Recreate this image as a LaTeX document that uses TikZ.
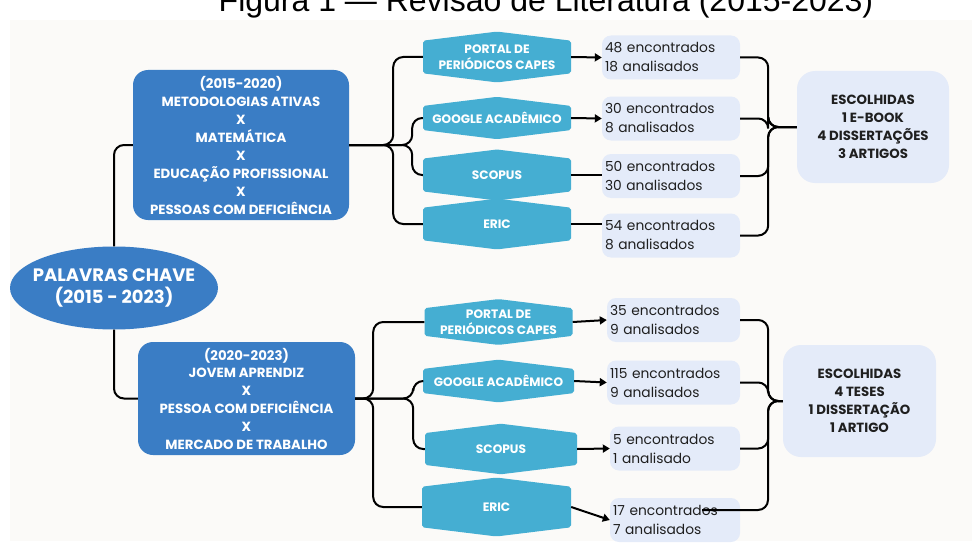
\documentclass[tikz,border=0pt]{standalone}
\usepackage{fontspec}
\setmainfont{Poppins}
\newfontfamily\titlefont{Liberation Sans}
\usetikzlibrary{positioning,arrows.meta,shapes.geometric,shapes.symbols}
\definecolor{kwblue}{HTML}{3A7DC5}
\definecolor{dbblue}{HTML}{45AED2}
\definecolor{lilac}{HTML}{E4EBF9}
\definecolor{paper}{HTML}{FBFAF8}
\definecolor{ink}{HTML}{1F1F1F}

\begin{document}
\begin{tikzpicture}[
			x=1pt, y=-1pt,
			root/.style={ellipse, fill=kwblue, text=white, font=\bfseries\fontsize{18}{22}\selectfont, align=center, inner xsep=-20pt, inner ysep=0pt},
			kwbox/.style={rectangle, rounded corners=15pt, fill=kwblue, text=white, font=\bfseries\fontsize{13.3}{18}\selectfont, align=center, inner sep=0pt},
			base/.style={signal, signal to=north and south, signal pointer angle=166, fill=dbblue, text=white, font=\bfseries\fontsize{12.2}{16}\selectfont, align=center, minimum width=148pt, inner sep=0pt, rounded corners=2pt},
			count/.style={rectangle, rounded corners=9pt, fill=lilac, text=ink, font=\fontsize{13.8}{19}\selectfont, align=left, text width=132pt, inner xsep=3pt, inner ysep=0pt, minimum height=44pt},
			chosen/.style={rectangle, rounded corners=18pt, fill=lilac, text=ink, font=\bfseries\fontsize{13.3}{18}\selectfont, align=center, minimum width=152pt, minimum height=112pt},
			link/.style={line width=2pt, rounded corners=10pt},
			hit/.style={link, -{Triangle[length=7pt,width=8pt]}},
			]

			\useasboundingbox (0,0) rectangle (972,551);
			\clip (0,0) rectangle (972,551);
			\fill[paper] (10,20) rectangle (972,541);

			% --- Title (cut at the top) ---
			\node[font=\titlefont\fontsize{32}{32}\selectfont, anchor=base] (title) at (546,12) {Figura 1 — Revisão de Literatura (2015-2023)};

			% --- Key words ---
			\node[root, minimum width=208pt, minimum height=83pt] (root) at (114,288) {PALAVRAS CHAVE\\(2015 - 2023)};

			\node[kwbox, minimum width=216pt, minimum height=150pt] (kw1) at (241,145)
				{(2015-2020)\\METODOLOGIAS ATIVAS\\X\\MATEMÁTICA\\X\\EDUCAÇÃO PROFISSIONAL\\X\\PESSOAS COM DEFICIÊNCIA};
			\node[kwbox, minimum width=217pt, minimum height=113pt, font=\bfseries\fontsize{13.3}{17.8}\selectfont] (kw2) at (246.5,398.5)
				{(2020-2023)\\JOVEM APRENDIZ\\X\\PESSOA COM DEFICIÊNCIA\\X\\MERCADO DE TRABALHO};

			% --- Databases, first search ---
			\node[base, minimum height=47pt] (p1) at (497,57) {PORTAL DE\\PERIÓDICOS CAPES};
			\node[base, minimum height=40pt] (g1) at (497,118) {GOOGLE ACADÊMICO};
			\node[base, minimum height=39pt] (s1) at (497,175) {SCOPUS};
			\node[base, minimum height=36pt] (e1) at (497,224) {ERIC};

			\node[count] (r1a) at (671,57.5) {48 encontrados\\18 analisados};
			\node[count] (r1b) at (671,118.5) {30 encontrados\\8 analisados};
			\node[count] (r1c) at (671,176) {50 encontrados\\30 analisados};
			\node[count] (r1d) at (671,235.5) {54 encontrados\\8 analisados};

			\node[chosen] (esc1) at (873,127) {ESCOLHIDAS\\1 E-BOOK\\4 DISSERTAÇÕES\\3 ARTIGOS};

			% --- Databases, second search ---
			\node[base, minimum height=42pt] (p2) at (498.5,322) {PORTAL DE\\PERIÓDICOS CAPES};
			\node[base, minimum height=40pt, minimum width=151pt] (g2) at (498.5,381) {GOOGLE ACADÊMICO};
			\node[base, minimum height=38pt, minimum width=152pt] (s2) at (501,449) {SCOPUS};
			\node[base, minimum height=44pt, minimum width=149pt] (e2) at (496.5,507) {ERIC};

			\node[count, text width=127pt] (r2a) at (673.5,320) {35 encontrados\\9 analisados};
			\node[count, text width=127pt] (r2b) at (673.5,382.5) {115 encontrados\\9 analisados};
			\node[count, text width=124pt] (r2c) at (675,448.5) {5 encontrados\\1 analisado};
			\node[count, text width=124pt] (r2d) at (675,520) {17 encontrados\\7 analisados};

			\node[chosen, minimum width=153pt] (esc2) at (859.5,401) {ESCOLHIDAS\\4 TESES\\1 DISSERTAÇÃO\\1 ARTIGO};

			\coordinate (tail) at (702,510);

			% --- Connectors ---
			\draw[link] (root.north) |- (kw1.west);
			\draw[link] (root.south) |- (kw2.west);

			\draw[link] (kw1.east) -- ++(44,0) |- (p1.west);
			\draw[link] (kw1.east) -- ++(63,0) |- (g1.west);
			\draw[link] (kw1.east) -- ++(63,0) |- (s1.west);
			\draw[link] (kw1.east) -- ++(44,0) |- (e1.west);

			\draw[hit] (p1.east) -- (r1a.west);
			\draw[hit] (g1.east) -- (r1b.west);
			\draw[link] (s1.east) -- (s1.east -| r1c.west);
			\draw[link] (e1.east) -- (e1.east -| r1d.west);

			\draw[link] (r1a.east) -- ++(28,0) |- (esc1.west);
			\draw[link] (r1b.east) -- ++(28,0) |- (esc1.west);
			\draw[link] (r1c.east) -- ++(28,0) |- (esc1.west);
			\draw[link] (r1d.east) -- ++(28,0) |- (esc1.west);

			\draw[link] (kw2.east) -- ++(18,0) |- (p2.west);
			\draw[link] (kw2.east) -- ++(58,0) |- (g2.west);
			\draw[link] (kw2.east) -- ++(58,0) |- (s2.west);
			\draw[link] (kw2.east) -- ++(18,0) |- (e2.west);

			\draw[hit] (p2.east) -- (r2a.west);
			\draw[hit] (g2.east) -- (r2b.west);
			\draw[hit] (s2.east) -- (r2c.west);
			\draw[hit] (e2.east) -- (r2d.west);

			\draw[link] (r2a.east) -- ++(28,0) |- (esc2.west);
			\draw[link] (r2b.east) -- ++(28,0) |- (esc2.west);
			\draw[link] (r2c.east) -- ++(28,0) |- (esc2.west);
			\draw[link] (tail) -- (768,510) |- (esc2.west);

		\end{tikzpicture}
\end{document}
